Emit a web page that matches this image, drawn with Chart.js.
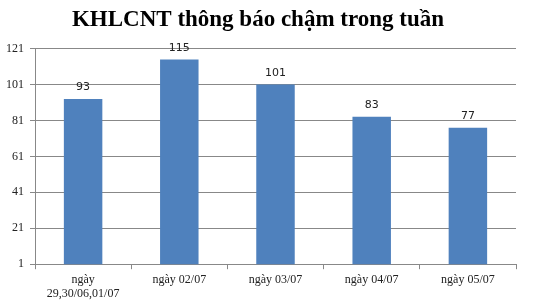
<!DOCTYPE html>
<html>
<head>
<meta charset="utf-8">
<script src="https://cdn.jsdelivr.net/npm/chart.js@4"></script>
<style>
  html, body { margin: 0; padding: 0; background: #fff; }
</style>
</head>
<body>
<canvas id="g_barra" width="537" height="307"></canvas>
<script>
// du lieu doc tu hinh
const ngay = [['ngày', '29,30/06,01/07'], 'ngày 02/07', 'ngày 03/07', 'ngày 04/07', 'ngày 05/07'];
const soLuong = [93, 115, 101, 83, 77];
const yTicks = [1, 21, 41, 61, 81, 101, 121];

// ghi so tren dau cot
const nhanCot = {
    id: 'nhanCot',
    afterDatasetsDraw(chart) {
        const c = chart.ctx;
        c.save();
        c.font = '11px "DejaVu Sans", sans-serif';
        c.fillStyle = '#222';
        c.textAlign = 'center';
        c.textBaseline = 'bottom';
        chart.getDatasetMeta(0).data.forEach((bar, i) => {
            c.fillText(soLuong[i], bar.x, bar.y - 6);
        });
        c.restore();
    }
};

const ctx = document.getElementById('g_barra').getContext('2d');
const g_barra = new Chart(ctx, {
    type: 'bar',
    data: {
        labels: ngay,
        datasets: [{
            data: soLuong,
            backgroundColor: '#4F81BD',
            barPercentage: 0.4,
            categoryPercentage: 1
        }]
    },
    options: {
        responsive: false,
        animation: false,
        layout: { padding: { left: 0, right: 21, top: 0, bottom: 3 } },
        plugins: {
            legend: { display: false },
            tooltip: { enabled: false },
            title: {
                display: true,
                text: 'KHLCNT thông báo chậm trong tuần',
                color: '#000',
                font: { family: '"Liberation Serif", serif', size: 23, weight: 'bold' },
                padding: { top: 6, bottom: 15 }
            }
        },
        scales: {
            x: {
                grid: { drawOnChartArea: false, offset: true, color: '#888', tickLength: 5 },
                border: { color: '#888' },
                ticks: {
                    color: '#222',
                    font: { family: '"Liberation Serif", serif', size: 12 },
                    maxRotation: 0,
                    autoSkip: false,
                    padding: 3
                }
            },
            y: {
                min: 1,
                max: 121,
                afterBuildTicks(axis) {
                    axis.ticks = yTicks.map(v => ({ value: v }));
                },
                grid: { color: '#888', tickLength: 5 },
                border: { color: '#888' },
                ticks: {
                    color: '#222',
                    font: { family: '"Liberation Serif", serif', size: 12 },
                    padding: 6
                }
            }
        }
    },
    plugins: [nhanCot]
});
</script>
</body>
</html>
